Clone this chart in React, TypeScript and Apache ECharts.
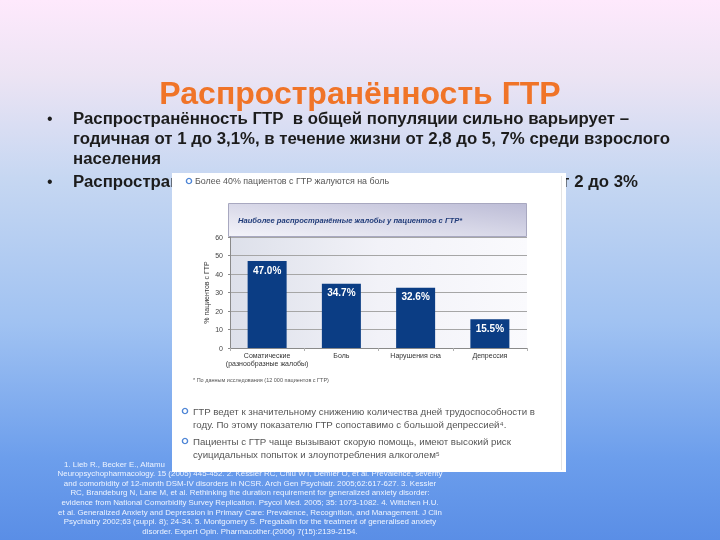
import React, { useEffect, useRef } from "react";
import * as echarts from "echarts";

// ---------- data ----------
const categories = ["Соматические\n(разнообразные жалобы)", "Боль", "Нарушения сна", "Депрессия"];
const values = [47.0, 34.7, 32.6, 15.5];
const yMin = 0;
const yMax = 60;
const yInterval = 10;
const yAxisName = "% пациентов с ГТР";
const chartTitle = "Наиболее распространённые жалобы у пациентов с ГТР*";
const chartFootnote = "* По данным исследования (12 000 пациентов с ГТР)";
const panelHeader = "Более 40% пациентов с ГТР жалуются на боль";
const panelBullets = [
  ["ГТР ведет к значительному снижению количества дней трудоспособности в", "году. По этому показателю ГТР сопоставимо с большой депрессией⁴."],
  ["Пациенты с ГТР чаще вызывают скорую помощь, имеют высокий риск", "суицидальных попыток и злоупотребления алкоголем⁵"],
];
const slideTitle = "Распространённость ГТР";
const slideBullet1 = [
  "Распространённость ГТР  в общей популяции сильно варьирует –",
  "годичная от 1 до 3,1%, в течение жизни от 2,8 до 5, 7% среди взрослого",
  "населения",
];
const slideBullet2Left = "Распространённость ГТР в первичном звене";
const slideBullet2Right = "т 2 до 3%";
const citations = [
  "1. Lieb R., Becker E., Altamura C. The epidemiology of generalized anxiety disorder in Europe. Eur",
  "Neuropsychopharmacology. 15 (2005) 445-452. 2. Kessler RC, Chiu WT, Demler O, et al. Prevalence, severity",
  "and comorbidity of 12-month DSM-IV disorders in NCSR. Arch Gen Psychiatr. 2005;62:617-627. 3. Kessler",
  "RC, Brandeburg N, Lane M, et al. Rethinking the duration requirement for generalized anxiety disorder:",
  "evidence from National Comorbidity Survey Replication. Psycol Med. 2005; 35: 1073-1082. 4. Wittchen H.U.",
  "et al. Generalized Anxiety and Depression in Primary Care: Prevalence, Recognition, and Management. J Clin",
  "Psychiatry 2002;63 (suppl. 8); 24-34. 5. Montgomery S. Pregabalin for the treatment of generalised anxiety",
  "disorder. Expert Opin. Pharmacother.(2006) 7(15):2139-2154.",
];

const SANS = "'Liberation Sans', Arial, sans-serif";

export default function App() {
  const ref = useRef<HTMLDivElement>(null);

  useEffect(() => {
    if (!ref.current) return;
    const chart = echarts.init(ref.current, undefined, { renderer: "svg" });
    const G = echarts.graphic;

    const graphics: any[] = [];
    // slide background
    graphics.push({
      type: "rect",
      z: -100,
      shape: { x: 0, y: 0, width: 720, height: 540 },
      style: {
        fill: new G.LinearGradient(0, 0, 0, 1, [
          { offset: 0, color: "#fee9fc" },
          { offset: 0.14, color: "#ece4f4" },
          { offset: 0.33, color: "#c6d7f2" },
          { offset: 0.6, color: "#a0c2f2" },
          { offset: 0.85, color: "#6c9eec" },
          { offset: 1, color: "#5a8ee6" },
        ]),
      },
    });
    // slide title
    graphics.push({
      type: "text",
      z: -90,
      x: 360,
      y: 93,
      style: {
        text: slideTitle,
        fill: "#f07428",
        fontFamily: SANS,
        fontWeight: "bold",
        fontSize: 32,
        lineHeight: 26,
        textAlign: "center",
        textVerticalAlign: "middle",
      },
    });
    // slide bullets
    const lineYs = [118, 138, 158];
    slideBullet1.forEach((t, i) => {
      graphics.push({
        type: "text",
        z: -90,
        x: 73,
        y: lineYs[i],
        style: { text: t, fill: "#1c1c1c", fontFamily: SANS, fontWeight: "bold", fontSize: 16.8, textVerticalAlign: "middle" },
      });
    });
    [118, 181].forEach((y) => {
      graphics.push({
        type: "text",
        z: -90,
        x: 47,
        y,
        style: { text: "•", fill: "#1c1c1c", fontFamily: SANS, fontSize: 16, textVerticalAlign: "middle" },
      });
    });
    graphics.push({
      type: "text",
      z: -90,
      x: 73,
      y: 181,
      style: {
        text: slideBullet2Left,
        width: 190,
        overflow: "truncate",
        ellipsis: "",
        fill: "#1c1c1c",
        fontFamily: SANS,
        fontWeight: "bold",
        fontSize: 16.8,
        textVerticalAlign: "middle",
      },
    });
    graphics.push({
      type: "text",
      z: -90,
      x: 638,
      y: 181,
      style: { text: slideBullet2Right, fill: "#1c1c1c", fontFamily: SANS, fontWeight: "bold", fontSize: 16.8, textAlign: "right", textVerticalAlign: "middle" },
    });
    // citations
    citations.forEach((t, i) => {
      if (i === 0) {
        graphics.push({
          type: "text",
          z: -90,
          x: 64,
          y: 464,
          style: {
            text: t,
            width: 128,
            overflow: "truncate",
            ellipsis: "",
            fill: "#eef4ff",
            fontFamily: SANS,
            fontSize: 7.9,
            textVerticalAlign: "middle",
          },
        });
        return;
      }
      graphics.push({
        type: "text",
        z: -90,
        x: 250,
        y: 464 + i * 9.6,
        style: { text: t, fill: "#eef4ff", fontFamily: SANS, fontSize: 7.9, textAlign: "center", textVerticalAlign: "middle" },
      });
    });
    // white panel
    graphics.push({
      type: "rect",
      z: -50,
      shape: { x: 172, y: 173, width: 394, height: 299 },
      style: { fill: "#ffffff" },
    });
    graphics.push({
      type: "line",
      z: -49,
      shape: { x1: 561.5, y1: 176, x2: 561.5, y2: 470 },
      style: { stroke: "#e4e4e4", lineWidth: 1 },
    });
    // panel header
    graphics.push({
      type: "circle",
      z: -40,
      shape: { cx: 189, cy: 181, r: 2.6 },
      style: { fill: "#ffffff", stroke: "#4f86d6", lineWidth: 1.4 },
    });
    graphics.push({
      type: "text",
      z: -40,
      x: 195,
      y: 181,
      style: { text: panelHeader, fill: "#555555", fontFamily: SANS, fontSize: 8.9, textVerticalAlign: "middle" },
    });
    // chart title band
    graphics.push({
      type: "rect",
      z: -40,
      shape: { x: 228.5, y: 203.5, width: 298, height: 33 },
      style: {
        fill: new G.LinearGradient(0, 1, 1, 0, [
          { offset: 0, color: "#f4f4fa" },
          { offset: 1, color: "#bcbcd6" },
        ]),
        stroke: "#a8a8c0",
        lineWidth: 1,
      },
    });
    graphics.push({
      type: "text",
      z: -39,
      x: 238,
      y: 220,
      style: { text: chartTitle, fill: "#1f3a78", fontFamily: SANS, fontSize: 7.6, fontWeight: "bold", fontStyle: "italic", textVerticalAlign: "middle" },
    });
    // plot background
    graphics.push({
      type: "rect",
      z: -40,
      shape: { x: 230, y: 237, width: 297, height: 111 },
      style: {
        fill: new G.LinearGradient(0, 0, 1, 0, [
          { offset: 0, color: "#dde0ea" },
          { offset: 0.5, color: "#f2f2f8" },
          { offset: 1, color: "#fafafd" },
        ]),
      },
    });
    // footnote
    graphics.push({
      type: "text",
      z: -39,
      x: 193,
      y: 380,
      style: { text: chartFootnote, fill: "#555555", fontFamily: SANS, fontSize: 5.5, textVerticalAlign: "middle" },
    });
    // lower bullets
    const bYs = [[411, 424], [441, 454]];
    panelBullets.forEach((lines, bi) => {
      graphics.push({
        type: "circle",
        z: -40,
        shape: { cx: 185, cy: bYs[bi][0], r: 2.6 },
        style: { fill: "#ffffff", stroke: "#4f86d6", lineWidth: 1.4 },
      });
      lines.forEach((t, li) => {
        graphics.push({
          type: "text",
          z: -40,
          x: 193,
          y: bYs[bi][li],
          style: { text: t, fill: "#555555", fontFamily: SANS, fontSize: 9.7, textVerticalAlign: "middle" },
        });
      });
    });

    chart.setOption({
      animation: false,
      graphic: { elements: graphics },
      grid: { left: 230, right: 193, top: 237, bottom: 192, containLabel: false },
      xAxis: {
        type: "category",
        data: categories,
        axisLine: { lineStyle: { color: "#8a8a8a" } },
        axisTick: { show: true, length: 3, lineStyle: { color: "#b0b0b0" } },
        axisLabel: {
          interval: 0,
          fontSize: 7,
          lineHeight: 8.5,
          color: "#333333",
          fontFamily: SANS,
          margin: 3,
        },
      },
      yAxis: {
        type: "value",
        min: yMin,
        max: yMax,
        interval: yInterval,
        name: yAxisName,
        nameLocation: "middle",
        nameRotate: 90,
        nameGap: 20,
        nameTextStyle: { fontSize: 7, color: "#333333", fontFamily: SANS },
        axisLine: { show: true, lineStyle: { color: "#8a8a8a" } },
        axisTick: { show: true, length: 2, lineStyle: { color: "#8a8a8a" } },
        axisLabel: { fontSize: 7, color: "#444444", fontFamily: SANS, margin: 7 },
        splitLine: { lineStyle: { color: "#a6a6a6", width: 1 } },
      },
      series: [
        {
          type: "bar",
          data: values,
          barWidth: 39,
          itemStyle: { color: "#0b3d84" },
          label: {
            show: true,
            position: "insideTop",
            distance: 4,
            color: "#ffffff",
            fontWeight: "bold",
            fontSize: 10,
            fontFamily: SANS,
            formatter: (p: any) => `${Number(p.value).toFixed(1)}%`,
          },
        },
      ],
    });

    return () => chart.dispose();
  }, []);

  return <div ref={ref} style={{ position: "fixed", left: 0, top: 0, width: 720, height: 540 }} />;
}
